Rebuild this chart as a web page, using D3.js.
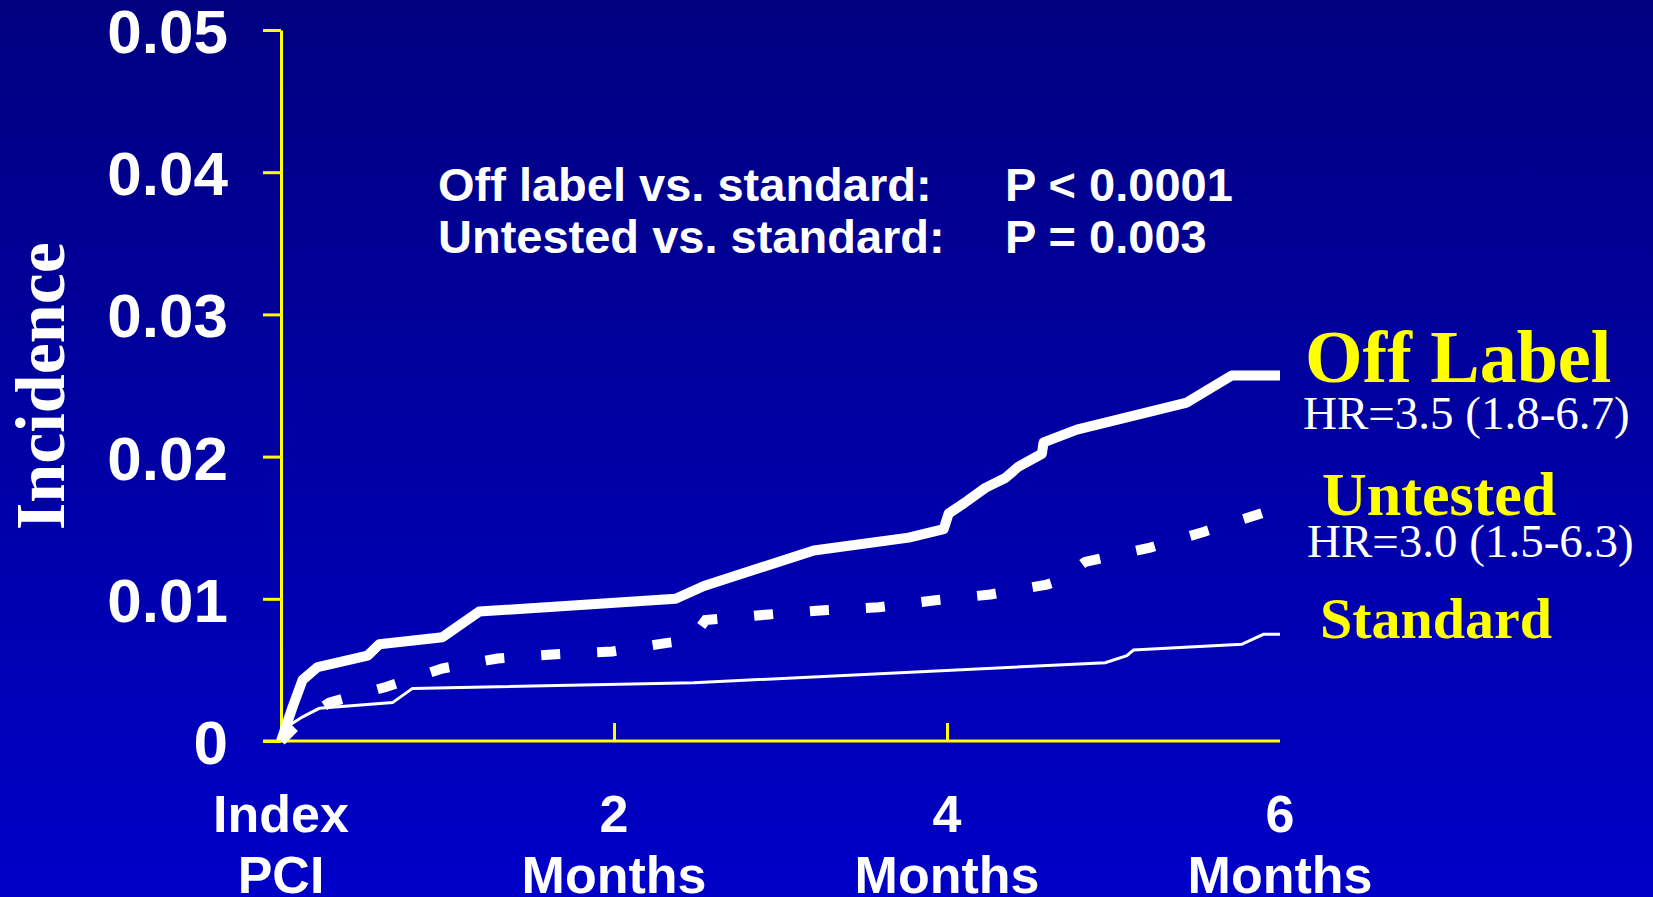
<!DOCTYPE html>
<html>
<head>
<meta charset="utf-8">
<script src="https://cdn.jsdelivr.net/npm/d3@7"></script>
<style>
  html, body { margin: 0; padding: 0; overflow: hidden; }
  svg { display: block; }
</style>
</head>
<body>
<svg id="chart" width="1653" height="897"></svg>
<script>
const svg = d3.select("#chart"),
    width = +svg.attr("width"),
    height = +svg.attr("height");

// months after index PCI, cumulative incidence
const offLabel = [
  [0, 0], [0.07, 0.0024], [0.13, 0.0043], [0.22, 0.0052], [0.52, 0.0060],
  [0.59, 0.0068], [0.97, 0.0073], [1.19, 0.0091], [2.37, 0.0100], [2.54, 0.0109],
  [3.20, 0.0134], [3.77, 0.0143], [3.98, 0.0149], [4.01, 0.0160], [4.10, 0.0167],
  [4.23, 0.0178], [4.35, 0.0185], [4.43, 0.0193], [4.57, 0.0202], [4.58, 0.0210],
  [4.78, 0.0219], [5.44, 0.0238], [5.71, 0.0257], [6.0, 0.0257]
];
const untested = [
  [0, 0], [0.11, 0.0013], [0.29, 0.0027], [0.63, 0.0038], [0.97, 0.0051],
  [1.30, 0.0058], [1.65, 0.0061], [1.99, 0.0063], [2.32, 0.0069], [2.46, 0.0071],
  [2.55, 0.0085], [2.93, 0.0089], [3.26, 0.0092], [3.59, 0.0094], [3.93, 0.0099],
  [4.26, 0.0103], [4.60, 0.0110], [4.68, 0.0113], [4.83, 0.0126], [5.22, 0.0136],
  [5.54, 0.0147], [5.94, 0.0162]
];
const standard = [
  [0, 0], [0.05, 0.0011], [0.13, 0.0017], [0.23, 0.0023], [0.67, 0.0027],
  [0.79, 0.0037], [2.48, 0.0041], [4.95, 0.0055], [5.08, 0.0060], [5.12, 0.0064],
  [5.77, 0.0068], [5.90, 0.0075], [6.0, 0.0075]
];

const yTicks = [0, 0.01, 0.02, 0.03, 0.04, 0.05];
const xTicks = [0, 2, 4, 6];
const xTickMarks = [2, 4];
const xTickLabels = [["Index", "PCI"], ["2", "Months"], ["4", "Months"], ["6", "Months"]];

const pLines = [
  ["Off label vs. standard:", "P < 0.0001"],
  ["Untested vs. standard:", "P = 0.003"]
];
const seriesLabels = [
  {name: "Off Label", hr: "HR=3.5 (1.8-6.7)"},
  {name: "Untested", hr: "HR=3.0 (1.5-6.3)"},
  {name: "Standard", hr: null}
];

// background gradient
const defs = svg.append("defs");
const grad = defs.append("linearGradient")
    .attr("id", "bg").attr("x1", 0).attr("y1", 0).attr("x2", 0).attr("y2", 1);
grad.append("stop").attr("offset", "0%").attr("stop-color", "#000080");
grad.append("stop").attr("offset", "100%").attr("stop-color", "#0000C8");
svg.append("rect").attr("width", width).attr("height", height).attr("fill", "url(#bg)");

const x = d3.scaleLinear().domain([0, 6]).range([281, 1280]);
const y = d3.scaleLinear().domain([0, 0.05]).range([741, 30]);

// y axis
const yAxis = svg.append("g")
    .attr("transform", "translate(281,0)")
    .call(d3.axisLeft(y).tickValues(yTicks).tickSize(18).tickSizeOuter(0).tickFormat(""));
yAxis.selectAll("path, line").attr("stroke", "#FFFF00").attr("stroke-width", 3);

svg.append("g").selectAll("text")
    .data(yTicks)
    .enter()
    .append("text")
    .attr("x", 228)
    .attr("y", d => y(d) + 23)
    .attr("text-anchor", "end")
    .style("font-family", "Arial, 'Liberation Sans', sans-serif")
    .style("font-weight", "bold")
    .style("font-size", "62px")
    .style("fill", "white")
    .text(d => d === 0 ? "0" : d.toFixed(2));

// x axis
const xAxis = svg.append("g")
    .attr("transform", "translate(0,741)")
    .call(d3.axisTop(x).tickValues(xTickMarks).tickSize(18).tickSizeOuter(0).tickFormat(""));
xAxis.select("path").attr("d", "M263,0H1280");
xAxis.selectAll("path, line").attr("stroke", "#FFFF00").attr("stroke-width", 3);

const xl = svg.append("g").selectAll("text")
    .data(xTicks)
    .enter()
    .append("text")
    .attr("text-anchor", "middle")
    .style("font-family", "Arial, 'Liberation Sans', sans-serif")
    .style("font-weight", "bold")
    .style("font-size", "52px")
    .style("fill", "white");
xl.append("tspan").attr("x", d => x(d)).attr("y", 832).text((d, i) => xTickLabels[i][0]);
xl.append("tspan").attr("x", d => x(d)).attr("y", 893).text((d, i) => xTickLabels[i][1]);

// y title
svg.append("text")
    .attr("transform", "translate(64,386) rotate(-90)")
    .attr("text-anchor", "middle")
    .style("font-family", "'Times New Roman', 'Liberation Serif', serif")
    .style("font-weight", "bold")
    .style("font-size", "70px")
    .style("fill", "white")
    .text("Incidence");

// curves
const line = d3.line().x(d => x(d[0])).y(d => y(d[1]));

svg.append("path").datum(standard)
    .attr("d", line).attr("fill", "none")
    .attr("stroke", "white").attr("stroke-width", 3);

svg.append("path").datum(untested)
    .attr("d", line).attr("fill", "none")
    .attr("stroke", "white").attr("stroke-width", 10)
    .attr("stroke-dasharray", "19,37");

svg.append("path").datum(offLabel)
    .attr("d", line).attr("fill", "none")
    .attr("stroke", "white").attr("stroke-width", 10)
    .attr("stroke-linejoin", "round");

// p-values
const pt = svg.append("g")
    .style("font-family", "Arial, 'Liberation Sans', sans-serif")
    .style("font-weight", "bold")
    .style("font-size", "47px")
    .style("fill", "white");
pLines.forEach((row, i) => {
  pt.append("text").attr("x", 438).attr("y", 201 + i * 52).text(row[0]);
  pt.append("text").attr("x", 1005).attr("y", 201 + i * 52).text(row[1]);
});

// series labels on the right
const lab = svg.append("g")
    .style("font-family", "'Times New Roman', 'Liberation Serif', serif");
const labPos = [
  {x: 1305, y: 382, size: 74, hx: 1303, hy: 429},
  {x: 1322, y: 515, size: 62, hx: 1307, hy: 557},
  {x: 1320, y: 638, size: 58}
];
seriesLabels.forEach((s, i) => {
  const p = labPos[i];
  lab.append("text").attr("x", p.x).attr("y", p.y)
      .style("font-weight", "bold").style("font-size", p.size + "px")
      .style("fill", "#FFFF00").text(s.name);
  if (s.hr) {
    lab.append("text").attr("x", p.hx).attr("y", p.hy)
        .style("font-size", "47px").style("fill", "white").text(s.hr);
  }
});
</script>
</body>
</html>
